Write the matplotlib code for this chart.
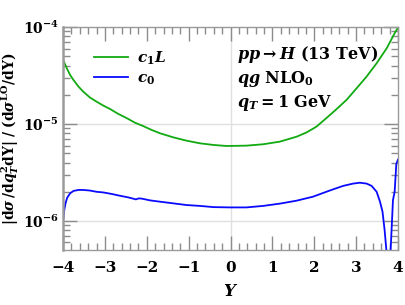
import numpy as np
import matplotlib.pyplot as plt
from matplotlib.ticker import LogLocator, MultipleLocator, NullFormatter

plt.rcParams.update({
    "font.family": "DejaVu Serif",
    "font.weight": "bold",
    "mathtext.fontset": "custom",
    "mathtext.rm": "DejaVu Serif:bold",
    "mathtext.it": "DejaVu Serif:italic:bold",
    "mathtext.bf": "DejaVu Serif:bold",
})

# c1 L curve (green)
Y_c1L = [-3.99, -3.91, -3.83, -3.75, -3.63, -3.52, -3.36, -3.20, -3.04, -2.88, -2.68,
         -2.48, -2.28, -2.08, -1.88, -1.68, -1.37, -1.05, -0.73, -0.41, -0.09, 0.38,
         0.78, 1.18, 1.58, 1.82, 2.05, 2.29, 2.53, 2.77, 3.01, 3.25, 3.49, 3.73, 3.94,
         4.0]
c1L = [4.50e-5, 3.75e-5, 3.20e-5, 2.84e-5, 2.43e-5, 2.16e-5, 1.88e-5, 1.70e-5,
       1.55e-5, 1.43e-5, 1.27e-5, 1.15e-5, 1.03e-5, 9.5e-6, 8.67e-6, 8.01e-6,
       7.29e-6, 6.73e-6, 6.32e-6, 6.08e-6, 5.93e-6, 5.98e-6, 6.18e-6, 6.58e-6,
       7.40e-6, 8.20e-6, 9.37e-6, 1.15e-5, 1.42e-5, 1.77e-5, 2.33e-5, 3.08e-5,
       4.23e-5, 6.03e-5, 8.95e-5, 9.8e-5]

# c0 curve (blue), absolute value, crosses zero near Y = 3.77
Y_c0 = [-3.99, -3.97, -3.94, -3.90, -3.83, -3.75, -3.63, -3.52, -3.36, -3.20, -3.04,
        -2.84, -2.64, -2.44, -2.26, -2.19, -2.12, -1.92, -1.68, -1.37, -1.05, -0.73,
        -0.41, -0.01, 0.38, 0.78, 1.18, 1.58, 1.97, 2.37, 2.69, 2.93, 3.09, 3.25,
        3.37, 3.49, 3.57, 3.63, 3.68, 3.73, 3.775, 3.82, 3.85, 3.88, 3.92, 3.96, 4.0]
c0 = [1.07e-6, 1.30e-6, 1.52e-6, 1.74e-6, 1.93e-6, 2.04e-6, 2.09e-6, 2.09e-6,
      2.06e-6, 2.00e-6, 1.97e-6, 1.90e-6, 1.82e-6, 1.75e-6, 1.67e-6, 1.71e-6,
      1.70e-6, 1.63e-6, 1.58e-6, 1.52e-6, 1.46e-6, 1.43e-6, 1.39e-6, 1.38e-6,
      1.38e-6, 1.43e-6, 1.51e-6, 1.62e-6, 1.78e-6, 2.06e-6, 2.30e-6, 2.43e-6,
      2.48e-6, 2.43e-6, 2.30e-6, 2.00e-6, 1.58e-6, 1.25e-6, 8.1e-7, 4.6e-7,
      1.0e-8, 4.6e-7, 8.7e-7, 1.64e-6, 2.0e-6, 3.87e-6, 4.3e-6]

fig = plt.figure(figsize=(4.05, 3.05), dpi=100)
ax = fig.add_axes([0.1556, 0.1803, 0.8271, 0.7312])

ax.axvline(0, color="#e0e0e0", lw=1.0, zorder=0)
for lev in [1e-5, 1e-6]:
    ax.axhline(lev, color="#e0e0e0", lw=1.0, zorder=0)

ax.plot(Y_c1L, c1L, color="#11aa11", lw=1.3, label=r"$c_1L$")
ax.plot(Y_c0, c0, color="#0a0aff", lw=1.3, label=r"$c_0$")

ax.set_yscale("log")
ax.set_xlim(-4, 4)
ax.set_ylim(5.02e-7, 1e-4)

ax.xaxis.set_major_locator(MultipleLocator(1))
ax.xaxis.set_minor_locator(MultipleLocator(0.2))
ax.yaxis.set_major_locator(LogLocator(base=10))
ax.yaxis.set_minor_locator(LogLocator(base=10, subs=np.arange(2, 10)))
ax.yaxis.set_minor_formatter(NullFormatter())

ax.tick_params(which="both", direction="in", top=True, right=True,
               color="#8c8c8c", labelsize=11)
ax.tick_params(axis="y", labelsize=10, pad=3)
ax.tick_params(which="major", length=10, width=1.0)
ax.tick_params(which="minor", length=5, width=1.0)
ax.tick_params(axis="x", pad=8)
for s in ax.spines.values():
    s.set_color("#9a9a9a")
    s.set_linewidth(1.0)
ax.spines["left"].set_linewidth(1.8)

ax.set_xlabel(r"$Y$", fontsize=12, labelpad=6)
ax.set_ylabel(r"$|\mathrm{d}\sigma\,/\mathrm{d}q_T^2\mathrm{dY}|\;/\;(\mathrm{d}\sigma^{\mathrm{LO}}/\mathrm{dY})$",
              fontsize=10)
ax.yaxis.set_label_coords(-0.125, 0.5)

ax.legend(loc="upper left", frameon=False, fontsize=11, handlelength=2.2,
          handletextpad=0.6, bbox_to_anchor=(0.075, 0.925), borderaxespad=0,
          labelspacing=0.3)

ax.text(0.52, 0.855, r"$pp \rightarrow H$ (13 TeV)", transform=ax.transAxes, fontsize=11.5)
ax.text(0.52, 0.748, r"$qg$ NLO$_0$", transform=ax.transAxes, fontsize=11.5)
ax.text(0.52, 0.642, r"$q_T = 1$ GeV", transform=ax.transAxes, fontsize=11.5)

fig.savefig("out.png", dpi=100)
